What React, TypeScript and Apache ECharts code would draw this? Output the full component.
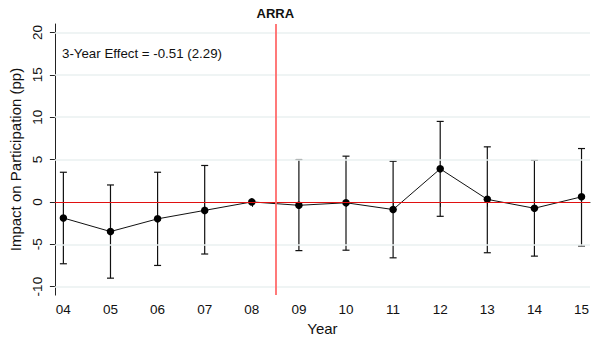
import React, { useEffect, useRef } from "react";
import * as echarts from "echarts";

const years = [4, 5, 6, 7, 8, 9, 10, 11, 12, 13, 14, 15];
const estimates = [-1.9, -3.5, -2.0, -1.0, 0.0, -0.4, -0.1, -0.9, 3.9, 0.3, -0.75, 0.6];
const ciLow = [-7.3, -9.0, -7.5, -6.15, null, -5.75, -5.7, -6.6, -1.7, -6.0, -6.4, -5.2];
const ciHigh = [3.5, 2.0, 3.5, 4.3, null, 5.0, 5.4, 4.8, 9.5, 6.5, 4.9, 6.3];
const yTicks = [-10, -5, 0, 5, 10, 15, 20];
const gridValues = [-10, -5, 5, 10, 15, 20];
const treatmentYear = 8.5;
const effectText = "3-Year Effect = -0.51 (2.29)";

const FONT = "Liberation Sans, Arial, Helvetica, sans-serif";

export default function App() {
  const ref = useRef<HTMLDivElement>(null);
  useEffect(() => {
    if (!ref.current) return;
    const chart = echarts.init(ref.current, null, { renderer: "svg" });
    const errData = years
      .map((y, i) => [y, ciLow[i], ciHigh[i]])
      .filter((d) => d[1] !== null && d[2] !== null);
    chart.setOption({
      animation: false,
      textStyle: { fontFamily: FONT },
      grid: { left: 49, right: 8, top: 24, bottom: 38, containLabel: false },
      xAxis: {
        type: "value",
        min: 3.82,
        max: 15.18,
        name: "Year",
        nameLocation: "middle",
        nameGap: 21,
        nameTextStyle: { fontSize: 15, color: "#111", fontFamily: FONT },
        axisLine: { lineStyle: { color: "#222", width: 1 } },
        axisTick: { show: true, length: 5, customValues: years, lineStyle: { color: "#222" } },
        axisLabel: {
          customValues: years,
          formatter: (v: number) => (v < 10 ? "0" + v : String(v)),
          fontSize: 13.5,
          color: "#111",
          margin: 7,
          fontFamily: FONT,
        },
        splitLine: { show: false },
      },
      yAxis: {
        type: "value",
        min: -11,
        max: 21,
        name: "Impact on Participation (pp)",
        nameLocation: "middle",
        nameGap: 27,
        nameTextStyle: { fontSize: 15, color: "#111", fontFamily: FONT },
        axisLine: { show: true, lineStyle: { color: "#222", width: 1 } },
        axisTick: { show: true, length: 5, customValues: yTicks, lineStyle: { color: "#222" } },
        axisLabel: {
          customValues: yTicks,
          rotate: 90,
          fontSize: 13.5,
          color: "#111",
          margin: 10,
          fontFamily: FONT,
        },
        splitLine: { show: false },
      },
      series: [
        {
          type: "line",
          data: [],
          silent: true,
          markLine: {
            silent: true,
            symbol: "none",
            label: { show: false },
            lineStyle: { color: "#eaf1f1", width: 1.5, type: "solid" },
            data: gridValues.map((v) => ({ yAxis: v })),
          },
          z: 1,
        },
        {
          type: "line",
          data: [],
          silent: true,
          markLine: {
            silent: true,
            symbol: "none",
            data: [
              {
                yAxis: 0,
                lineStyle: { color: "#e01010", width: 1.2, type: "solid" },
                label: { show: false },
              },
              {
                xAxis: treatmentYear,
                lineStyle: { color: "#ff6b6b", width: 1.8, type: "solid" },
                label: {
                  show: true,
                  position: "end",
                  formatter: "ARRA",
                  fontWeight: "bold",
                  fontSize: 13,
                  color: "#111",
                  distance: 4,
                  fontFamily: FONT,
                },
              },
            ],
          },
          z: 2,
        },
        {
          type: "custom",
          data: errData,
          z: 3,
          renderItem: (params: any, api: any) => {
            const x = api.value(0);
            const lo = api.coord([x, api.value(1)]);
            const hi = api.coord([x, api.value(2)]);
            const cap = 3.5;
            const style = { stroke: "#111", lineWidth: 1.2 };
            return {
              type: "group",
              children: [
                { type: "line", shape: { x1: lo[0], y1: lo[1], x2: hi[0], y2: hi[1] }, style },
                { type: "line", shape: { x1: lo[0] - cap, y1: lo[1], x2: lo[0] + cap, y2: lo[1] }, style },
                { type: "line", shape: { x1: hi[0] - cap, y1: hi[1], x2: hi[0] + cap, y2: hi[1] }, style },
              ],
            };
          },
        },
        {
          type: "line",
          data: years.map((y, i) => [y, estimates[i]]),
          symbol: "circle",
          symbolSize: 7.5,
          itemStyle: { color: "#000" },
          lineStyle: { color: "#111", width: 1 },
          z: 4,
        },
      ],
      graphic: [
        {
          type: "text",
          left: 62,
          top: 47,
          style: { text: effectText, fontSize: 13.3, fill: "#111", fontFamily: FONT },
        },
      ],
    });
    return () => chart.dispose();
  }, []);
  return (
    <div
      ref={ref}
      style={{ position: "absolute", left: 0, top: 0, width: 598, height: 341 }}
    />
  );
}
